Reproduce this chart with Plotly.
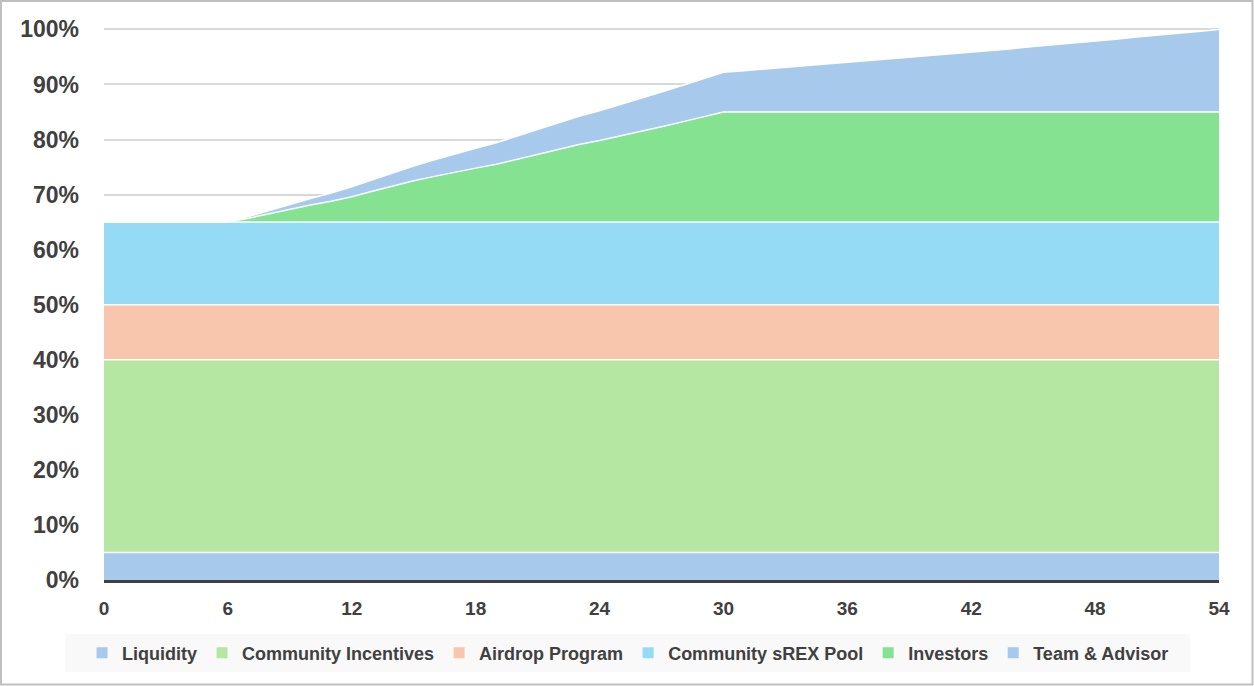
import plotly.graph_objects as go

months = list(range(0, 55))

liquidity = [5.0] * 55
community_incentives = [35.0] * 55
airdrop_program = [10.0] * 55
community_srex_pool = [15.0] * 55
investors = [0, 0, 0, 0, 0, 0, 0,
             0.7, 1.5, 2.4, 3.1, 3.8, 4.6, 5.6, 6.6, 7.5, 8.3, 9.1, 9.8,
             10.5, 11.4, 12.3, 13.2, 14.1, 14.8, 15.6, 16.4, 17.3, 18.2, 19.1, 20.0,
             20, 20, 20, 20, 20, 20, 20, 20, 20, 20, 20, 20,
             20, 20, 20, 20, 20, 20, 20, 20, 20, 20, 20, 20]
team_advisor = [0, 0, 0, 0, 0, 0, 0,
                0.3, 0.6, 0.9, 1.2, 1.5, 1.8, 2.1, 2.4, 2.7, 3.0, 3.3, 3.6,
                3.9, 4.2, 4.5, 4.8, 5.1, 5.4, 5.7, 6.0, 6.3, 6.6, 6.9, 7.2,
                7.5, 7.8, 8.1, 8.4, 8.7, 9.0, 9.3, 9.6, 9.9, 10.2, 10.5, 10.8,
                11.2, 11.5, 11.9, 12.2, 12.5, 12.9, 13.2, 13.6, 13.9, 14.3, 14.6, 15.0]

series_names = ["Liquidity", "Community Incentives", "Airdrop Program",
                "Community sREX Pool", "Investors", "Team & Advisor"]
series_values = [liquidity, community_incentives, airdrop_program,
                 community_srex_pool, investors, team_advisor]
series_colors = ["#A6C9EC", "#B5E6A2", "#F7C6AD", "#96DBF6", "#85E290", "#A6C9EC"]

x_ticks = [0, 6, 12, 18, 24, 30, 36, 42, 48, 54]
y_ticks = [0, 10, 20, 30, 40, 50, 60, 70, 80, 90, 100]
y_tick_labels = ["0%", "10%", "20%", "30%", "40%", "50%", "60%", "70%", "80%", "90%", "100%"]

fig = go.Figure()
for name, vals, col in zip(series_names, series_values, series_colors):
    fig.add_trace(go.Scatter(
        x=months, y=vals, name=name, stackgroup="one", mode="lines",
        line=dict(color="white", width=1.5), fillcolor=col,
        showlegend=False, hoverinfo="x+y+name"))
for name, col in zip(series_names, series_colors):
    fig.add_trace(go.Scatter(
        x=[None], y=[None], name=name, mode="markers",
        marker=dict(symbol="square", size=11, color=col), showlegend=True))

W, H = 1254, 686
L, R, T, B = 104, 35, 28, 106
pw, ph = W - L - R, H - T - B

def px_x(p):
    return (p - L) / pw

def px_y(p):
    return (H - B - p) / ph

fig.update_layout(
    width=W, height=H,
    margin=dict(l=L, r=R, t=T, b=B),
    paper_bgcolor="white", plot_bgcolor="white",
    font=dict(family="Liberation Sans, Arial, sans-serif", color="#404040"),
    xaxis=dict(range=[0, 54], tickvals=x_ticks, showgrid=False, zeroline=False,
               showline=True, linecolor="#404040", linewidth=3, ticks="",
               tickfont=dict(size=19, weight="bold", color="#404040"),
               ticklabelstandoff=9),
    yaxis=dict(range=[0, 100.25], tickvals=y_ticks, ticktext=y_tick_labels,
               showgrid=True, gridcolor="#D9D9D9", gridwidth=1.5, zeroline=False,
               ticks="", tickfont=dict(size=23, weight="bold", color="#404040"),
               ticklabelstandoff=24),
    legend=dict(orientation="h", x=0.47, xanchor="center", y=px_y(653),
                yanchor="middle", bgcolor="rgba(0,0,0,0)", traceorder="normal",
                font=dict(size=18, weight="bold", color="#404040"),
                itemwidth=30, tracegroupgap=0),
    shapes=[
        dict(type="rect", xref="paper", yref="paper", layer="below",
             x0=px_x(65), x1=px_x(1190), y0=px_y(672), y1=px_y(634),
             fillcolor="#F9F9F9", line=dict(width=0)),
        dict(type="rect", xref="paper", yref="paper", layer="above",
             x0=px_x(1), x1=px_x(1252.5), y0=px_y(684.5), y1=px_y(1),
             fillcolor="rgba(0,0,0,0)", line=dict(color="#BFBFBF", width=2)),
    ],
)

fig.write_html("out.html", config={"displayModeBar": False},
               post_script="document.body.style.margin='0';document.body.style.overflow='hidden';")
